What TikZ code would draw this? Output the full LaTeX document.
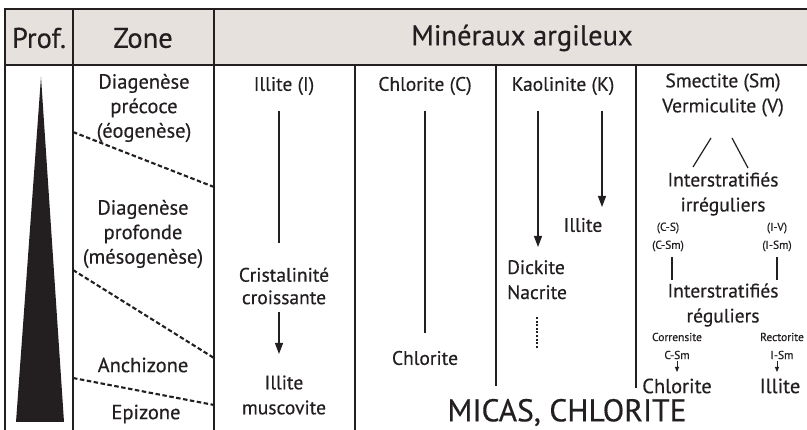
\documentclass[tikz,border=0pt]{standalone}
\usepackage{fontspec}
\setmainfont{PT Sans}[FakeBold=0.4]
\usetikzlibrary{positioning,arrows.meta}
\definecolor{headfill}{RGB}{230,225,221}
\definecolor{inkgray}{RGB}{35,31,32}
\tikzset{
  head text/.style={font=\fontsize{28.5}{30}\selectfont, inner sep=0pt, text=inkgray},
  zone text/.style={align=center, font=\fontsize{20.5}{24.5}\selectfont, inner sep=0pt, text=inkgray},
  mineral/.style={align=center, font=\fontsize{19.5}{25}\selectfont, inner sep=0pt, text=inkgray},
  tiny label/.style={align=center, font=\fontsize{11.5}{18}\selectfont, inner sep=0pt, text=inkgray},
  rule/.style={line width=1.2pt, draw=inkgray},
  limit/.style={line width=2.1pt, dash pattern=on 4.5pt off 2.5pt, draw=inkgray},
  trend/.style={line width=1.2pt, draw=inkgray, -{Triangle[width=8pt,length=11pt]}},
  small trend/.style={line width=0.8pt, draw=inkgray, -{Triangle[width=4pt,length=5pt]}},
}
\begin{document}
\begin{tikzpicture}[x=1pt, y=-1pt]
  \useasboundingbox (0,0) rectangle (807,430);
  \fill[headfill] (5,9) rectangle (807,65);
  \draw[rule] (807,9) -- (5,9) -- (5,430);
  \draw[rule] (5,65) -- (807,65);
  \draw[rule] (73,9) -- (73,430);
  \draw[rule] (214,9) -- (214,430);
  \draw[rule] (355,65) -- (355,430);
  \draw[rule] (496,65) -- (496,386);
  \draw[rule] (636,65) -- (636,388);

  \node [head text] (prof) at (39,38) {Prof.};
  \node [head text] (zone) at (143,38) {Zone};
  \node [head text] (minerals) at (522,38) {Minéraux argileux};

  \fill[inkgray] (41,77) -- (16,422) -- (64,422) -- cycle;

  \node [zone text] (z1) at (144,108) {Diagenèse\\précoce\\(éogenèse)};
  \node [zone text] (z2) at (143,234) {Diagenèse\\profonde\\(mésogenèse)};
  \node [zone text] (z3) at (143,365) {Anchizone};
  \node [zone text] (z4) at (146,414) {Epizone};

  \coordinate (l1a) at (73,132);
  \coordinate (l1b) at (214,187);
  \coordinate (l2a) at (73,270);
  \coordinate (l2b) at (214,358);
  \coordinate (l3a) at (73,378);
  \coordinate (l3b) at (214,405);
  \draw[limit] (l1a) -- (l1b);
  \draw[limit] (l2a) -- (l2b);
  \draw[limit] (l3a) -- (l3b);

  \node [mineral] (illI) at (284,86) {Illite (I)};
  \node [mineral, font=\fontsize{19.5}{22.5}\selectfont] (crist) at (284,286) {Cristalinité\\croissante};
  \node [mineral] (musc) at (284,395) {Illite\\muscovite};
  \coordinate (ill top) at (279,111);
  \coordinate (ill bot) at (279,243);
  \coordinate (ill arr) at (279,312);
  \coordinate (ill tip) at (279,354);
  \draw[rule] (ill top) -- (ill bot);
  \draw[trend] (ill arr) -- (ill tip);

  \node [mineral] (chlC) at (425,86) {Chlorite (C)};
  \node [mineral] (chl) at (425,358) {Chlorite};
  \coordinate (chl top) at (425,111);
  \coordinate (chl bot) at (425,333);
  \draw[rule] (chl top) -- (chl bot);

  \node [mineral] (kaoK) at (563,86) {Kaolinite (K)};
  \node [mineral] (kaoI) at (583,225) {Illite};
  \node [mineral, align=left, anchor=north west] (dick) at (507,260) {Dickite\\Nacrite};
  \coordinate (kao left) at (538,111);
  \coordinate (kao left tip) at (538,247);
  \coordinate (kao right) at (602,111);
  \coordinate (kao right tip) at (602,207);
  \coordinate (kao dot) at (537,317);
  \coordinate (kao dot end) at (537,349);
  \draw[trend] (kao left) -- (kao left tip);
  \draw[trend] (kao right) -- (kao right tip);
  \draw[line width=2pt, draw=inkgray, dash pattern=on 2pt off 1.6pt] (kao dot) -- (kao dot end);

  \node [mineral] (smec) at (723,95) {Smectite (Sm)\\Vermiculite (V)};
  \node [mineral] (irr) at (723,194) {Interstratifiés\\irréguliers};
  \draw[rule] (693,167) -- (711,138);
  \draw[rule] (732,138) -- (748,168);
  \node [tiny label] (cs) at (668,237) {(C-S)\\(C-Sm)};
  \node [tiny label] (iv) at (777,237) {(I-V)\\(I-Sm)};
  \draw[rule] (672,257) -- (672,280);
  \draw[rule] (777,257) -- (777,280);
  \node [mineral] (reg) at (723,305) {Interstratifiés\\réguliers};
  \node [tiny label] (corr) at (677,346) {Corrensite\\C-Sm};
  \node [tiny label] (rect) at (782,346) {Rectorite\\I-Sm};
  \node [mineral, font=\fontsize{20.5}{24}\selectfont] (chlF) at (677,386) {Chlorite};
  \node [mineral, font=\fontsize{20.5}{24}\selectfont] (illF) at (780,386) {Illite};
  \coordinate (corr a) at (677,361);
  \coordinate (corr b) at (677,372);
  \coordinate (rect a) at (777,361);
  \coordinate (rect b) at (777,372);
  \draw[small trend] (corr a) -- (corr b);
  \draw[small trend] (rect a) -- (rect b);

  \node [mineral, font=\fontsize{31.5}{36}\selectfont] (micas) at (567,412.5) {MICAS, CHLORITE};
\end{tikzpicture}
\end{document}
